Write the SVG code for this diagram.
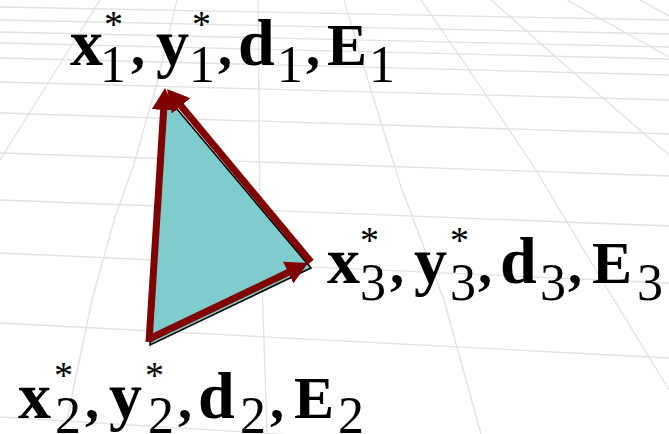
<svg xmlns="http://www.w3.org/2000/svg" width="669" height="434" viewBox="0 0 669 434">
<defs>
<style>
.grid{fill:none;stroke:#e2e2e2;stroke-width:1.3}
.edge{fill:none;stroke:#800000;stroke-width:7;stroke-linecap:butt}
.m{font-weight:700;font-size:66px}
.e{font-weight:700;font-size:60px}
.c{font-weight:700;font-size:56px}
.s{font-weight:400;font-size:52px}
.a{font-weight:400;font-size:38px}
</style>
<marker id="ah" markerUnits="userSpaceOnUse" viewBox="0 0 22 24" refX="10" refY="12" markerWidth="22" markerHeight="24" orient="auto">
<path d="M0,0 L22,12 L0,24 z" fill="#800000"/>
</marker>
</defs>
<rect width="669" height="434" fill="#ffffff"/>
<g id="grid" class="grid">
<path d="M100,0 L0,160"/>
<path d="M177,0 L157,83 L133,167 L115,217 L92,300 L64,434"/>
<path d="M258,0 L260,217 L267,434"/>
<path d="M344,0 L367,77 L401,187 L444,300 L481,434"/>
<path d="M421,0 L467,67 L534,167 L594,267 L669,390"/>
<path d="M491,0 L567,67 L669,155"/>
<path d="M567,0 L669,57"/>
<path d="M640,0 L669,16"/>
<path d="M0,7 L669,20"/>
<path d="M0,20 L669,34"/>
<path d="M0,32 L669,47"/>
<path d="M0,43 L669,59"/>
<path d="M0,58 L669,75"/>
<path d="M0,82 L669,100"/>
<path d="M0,113 L669,134"/>
<path d="M0,153 L669,176"/>
<path d="M0,200 L669,226"/>
<path d="M0,253 L669,283"/>
<path d="M0,323 L669,358"/>
<path d="M0,417 L669,458"/>
</g>
<g id="triangle">
<polygon points="150,345 166,96 311,268" fill="#7fcccc" stroke="#000" stroke-width="1.6"/>
</g>
<g id="connectors">
<line class="edge" x1="149" y1="342" x2="164.3" y2="100" marker-end="url(#ah)"/>
<line class="edge" x1="311" y1="262" x2="174.7" y2="98.2" marker-end="url(#ah)"/>
<line class="edge" x1="149" y1="339" x2="297.2" y2="268.2" marker-end="url(#ah)"/>
</g>
<g id="label1">
<text font-family="Liberation Serif, Times New Roman, serif" fill="#000"><tspan class="m" x="70" y="65">x</tspan><tspan class="a" x="104" y="37">*</tspan><tspan class="s" x="100" y="82">1</tspan><tspan class="c" x="131" y="65">,</tspan><tspan class="m" x="156" y="65">y</tspan><tspan class="a" x="192" y="37">*</tspan><tspan class="s" x="189" y="82">1</tspan><tspan class="c" x="218" y="65">,</tspan><tspan class="m" x="238" y="65">d</tspan><tspan class="s" x="277" y="82">1</tspan><tspan class="c" x="306" y="65">,</tspan><tspan class="e" x="327" y="65">E</tspan><tspan class="s" x="369" y="82">1</tspan></text>
</g>
<g id="label3">
<text font-family="Liberation Serif, Times New Roman, serif" fill="#000"><tspan class="m" x="327" y="283">x</tspan><tspan class="a" x="360" y="253">*</tspan><tspan class="s" x="360" y="300">3</tspan><tspan class="c" x="390" y="283">,</tspan><tspan class="m" x="414" y="283">y</tspan><tspan class="a" x="450" y="253">*</tspan><tspan class="s" x="450" y="300">3</tspan><tspan class="c" x="478" y="283">,</tspan><tspan class="m" x="500" y="283">d</tspan><tspan class="s" x="540" y="300">3</tspan><tspan class="c" x="568" y="283">,</tspan><tspan class="e" x="592" y="283">E</tspan><tspan class="s" x="637" y="300">3</tspan></text>
</g>
<g id="label2">
<text font-family="Liberation Serif, Times New Roman, serif" fill="#000"><tspan class="m" x="18" y="418">x</tspan><tspan class="a" x="54" y="388">*</tspan><tspan class="s" x="55" y="433">2</tspan><tspan class="c" x="85" y="418">,</tspan><tspan class="m" x="109" y="418">y</tspan><tspan class="a" x="145" y="388">*</tspan><tspan class="s" x="148" y="433">2</tspan><tspan class="c" x="178" y="418">,</tspan><tspan class="m" x="198" y="418">d</tspan><tspan class="s" x="240" y="433">2</tspan><tspan class="c" x="270" y="418">,</tspan><tspan class="e" x="294" y="418">E</tspan><tspan class="s" x="338" y="433">2</tspan></text>
</g>
</svg>
